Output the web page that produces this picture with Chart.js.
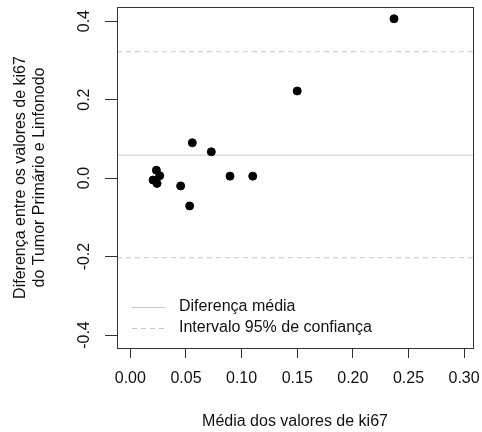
<!DOCTYPE html>
<html>
<head>
<meta charset="utf-8">
<script src="https://cdn.jsdelivr.net/npm/chart.js@4"></script>
<style>
  body { margin: 0; background: #fff; }
  canvas { display: block; }
</style>
</head>
<body>
<canvas id="mychart" width="482" height="432"></canvas>
<script>
// valores (media x diferenca de ki67)
const meanValues = [0.237, 0.150, 0.0557, 0.0728, 0.0896, 0.110, 0.0452, 0.0533, 0.0234, 0.0264, 0.0204, 0.0240];
const diffValues = [0.406, 0.222, 0.090, 0.067, 0.005, 0.005, -0.020, -0.071, 0.020, 0.006, -0.005, -0.0135];

const meanDiff = 0.0586;
const upperLimit = 0.322;
const lowerLimit = -0.203;

const xTicks = [0.00, 0.05, 0.10, 0.15, 0.20, 0.25, 0.30];
const yTicks = [-0.4, -0.2, 0.0, 0.2, 0.4];
const xRange = [-0.012, 0.308];
const yRange = [-0.433, 0.436];

const legendLabels = ['Diferença média', 'Intervalo 95% de confiança'];
const xTitle = 'Média dos valores de ki67';
const yTitle = ['Diferença entre os valores de ki67', 'do Tumor Primário e Linfonodo'];

const fontFamily = '"Liberation Sans", Arial, sans-serif';
const textColor = '#111';
const lineGray = '#c8c8c8';

function hline(y, dashed) {
  return {
    type: 'line',
    data: [{x: xRange[0], y: y}, {x: xRange[1], y: y}],
    borderColor: lineGray,
    borderWidth: 1,
    borderDash: dashed ? [5, 4] : [],
    pointRadius: 0,
    fill: false,
  };
}

const points = meanValues.map(function (m, i) { return {x: m, y: diffValues[i]}; });

// caixa, rotulos do eixo y giradas e legenda como no R
const rBase = {
  id: 'rBase',
  afterDraw(chart) {
    const ctx = chart.ctx;
    const area = chart.chartArea;
    const yScale = chart.scales.y;
    ctx.save();
    ctx.strokeStyle = '#333';
    ctx.lineWidth = 1;
    ctx.strokeRect(Math.round(area.left) + 0.5, Math.round(area.top) + 0.5,
      Math.round(area.right - area.left), Math.round(area.bottom - area.top));

    ctx.fillStyle = textColor;
    ctx.font = '16px ' + fontFamily;
    ctx.textAlign = 'center';
    ctx.textBaseline = 'middle';
    for (const v of yTicks) {
      const py = yScale.getPixelForValue(v);
      ctx.save();
      ctx.translate(area.left - 32, py);
      ctx.rotate(-Math.PI / 2);
      ctx.fillText(v.toFixed(1), 0, 0);
      ctx.restore();
    }

    // legenda
    ctx.textAlign = 'left';
    const lx = area.left + 15;
    const ly = area.top + 300;
    legendLabels.forEach(function (lbl, i) {
      const yy = ly + i * 21;
      ctx.strokeStyle = lineGray;
      ctx.setLineDash(i === 0 ? [] : [5, 4]);
      ctx.beginPath();
      ctx.moveTo(lx, Math.round(yy) + 0.5);
      ctx.lineTo(lx + 33, Math.round(yy) + 0.5);
      ctx.stroke();
      ctx.fillText(lbl, lx + 47, yy);
    });
    ctx.restore();
  }
};

new Chart(document.getElementById('mychart'), {
  type: 'scatter',
  data: {
    datasets: [
      {
        data: points,
        backgroundColor: '#000',
        borderColor: '#000',
        pointRadius: 4,
        pointHoverRadius: 4,
      },
      hline(meanDiff, false),
      hline(upperLimit, true),
      hline(lowerLimit, true),
    ],
  },
  options: {
    responsive: false,
    animation: false,
    layout: { padding: { top: 7, right: 9, left: 0, bottom: 0 } },
    plugins: { legend: { display: false }, tooltip: { enabled: false } },
    scales: {
      x: {
        type: 'linear',
        min: xRange[0],
        max: xRange[1],
        afterBuildTicks: function (scale) { scale.ticks = xTicks.map(function (v) { return {value: v}; }); },
        afterFit: function (scale) {
          scale.height = 84;
          scale.paddingLeft = 0;
          scale.paddingRight = 0;
        },
        border: { display: false },
        grid: { drawOnChartArea: false, drawTicks: true, tickLength: 10, color: '#333' },
        ticks: {
          autoSkip: false,
          maxRotation: 0,
          padding: 11,
          color: textColor,
          font: { family: fontFamily, size: 16 },
          callback: function (v) { return Number(v).toFixed(2); },
        },
        title: {
          display: true,
          text: xTitle,
          color: textColor,
          font: { family: fontFamily, size: 16 },
          padding: { top: 0, bottom: 1 },
        },
      },
      y: {
        type: 'linear',
        min: yRange[0],
        max: yRange[1],
        afterBuildTicks: function (scale) { scale.ticks = yTicks.map(function (v) { return {value: v}; }); },
        afterFit: function (scale) {
          scale.width = 117;
          scale.paddingTop = 0;
          scale.paddingBottom = 0;
        },
        border: { display: false },
        grid: { drawOnChartArea: false, drawTicks: true, tickLength: 12, color: '#333' },
        ticks: { display: false },
        title: {
          display: true,
          text: yTitle,
          color: textColor,
          font: { family: fontFamily, size: 16 },
          padding: { top: 11, bottom: 0 },
        },
      },
    },
  },
  plugins: [rBase],
});
</script>
</body>
</html>
